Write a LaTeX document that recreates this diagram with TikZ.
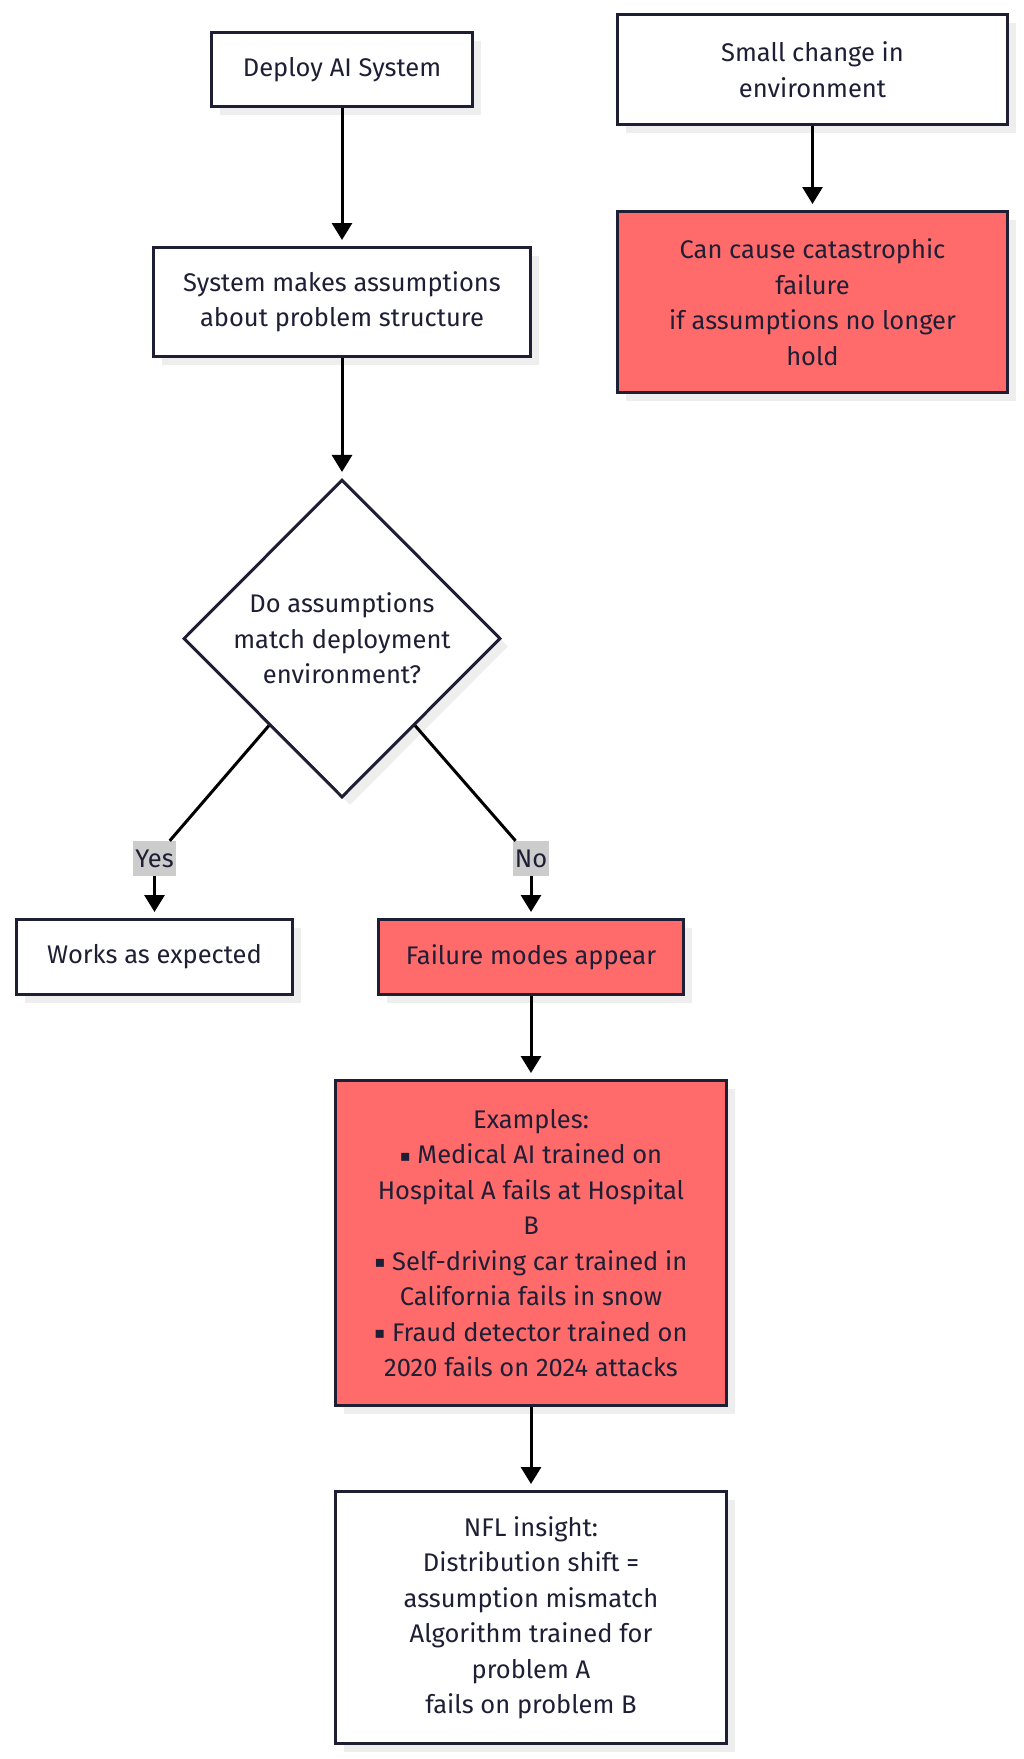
\documentclass[tikz,border=0pt]{standalone}
\usepackage{fontspec}
\setmainfont{Fira Sans}
\newfontfamily\symfont{DejaVu Sans}
\usepackage{tikz}
\usepackage{xcolor}
\usetikzlibrary{shapes.geometric,arrows.meta,shadows}

\definecolor{navy}{HTML}{1E1E35}
\definecolor{alarm}{HTML}{FF6B6B}
\definecolor{lblgray}{HTML}{CCCCCC}
\definecolor{shade}{HTML}{EEEEEE}
\newcommand{\sq}{\raisebox{2.5pt}{\symfont\fontsize{16pt}{36pt}\selectfont ▪}}

\begin{document}
\begin{tikzpicture}
  [x=1pt,y=-1pt,
   every node/.style={text=navy,align=center,font=\fontsize{25.5pt}{35.5pt}\selectfont},
   box/.style={rectangle,draw=navy,line width=3pt,fill=white,inner sep=2pt,
     drop shadow={shadow xshift=8pt,shadow yshift=-8pt,fill=shade,opacity=1}},
   redbox/.style={box,fill=alarm},
   decision/.style={diamond,draw=navy,line width=3pt,fill=white,inner sep=0pt,
     drop shadow={shadow xshift=8pt,shadow yshift=-8pt,fill=shade,opacity=1}},
   lbl/.style={fill=lblgray,inner xsep=2pt,inner ysep=0pt,minimum height=35pt},
   flow/.style={line width=3pt,-{Triangle[width=20pt,length=17pt]},shorten >=6pt},
   link/.style={line width=3pt}]
  \useasboundingbox (0,0) rectangle (1024,1759);

  \node[box,minimum width=261pt,minimum height=74pt] (deploy) at (342,69.5) {Deploy AI System};
  \node[box,minimum width=377pt,minimum height=109pt] (assume) at (342,302)
    {System makes assumptions\\about problem structure};
  \node[decision,minimum width=317pt,minimum height=318pt] (match) at (342,638.5)
    {Do assumptions\\match deployment\\environment?};
  \node[box,minimum width=276pt,minimum height=75pt] (works) at (154.5,957) {Works as expected};
  \node[redbox,minimum width=305pt,minimum height=75pt] (failure) at (531,957) {Failure modes appear};
  \node[redbox,minimum width=391pt,minimum height=325pt] (examples) at (531,1243)
    {Examples:\\\sq\ Medical AI trained on\\Hospital A fails at Hospital\\B\\
     \sq\ Self-driving car trained in\\California fails in snow\\
     \sq\ Fraud detector trained on\\2020 fails on 2024 attacks};
  \node[box,minimum width=391pt,minimum height=252pt] (nfl) at (531,1617.5)
    {NFL insight:\\Distribution shift =\\assumption mismatch\\Algorithm trained for\\problem A\\fails on problem B};

  \node[box,minimum width=390pt,minimum height=110pt] (change) at (812.5,69.5)
    {Small change in\\environment};
  \node[redbox,minimum width=390pt,minimum height=181pt] (catas) at (812.5,302)
    {Can cause catastrophic\\failure\\if assumptions no longer\\hold};

  \node[lbl] (yes) at (154.5,858.5) {Yes};
  \node[lbl] (no) at (531,858.5) {No};

\foreach \from/\to in {deploy/assume,assume/match,change/catas,failure/examples,examples/nfl,yes/works,no/failure}
    \draw[flow] (\from) -- (\to);
  \draw[link] (match.-130) -- (yes);
  \draw[link] (match.-50) -- (no);

\end{tikzpicture}
\end{document}
